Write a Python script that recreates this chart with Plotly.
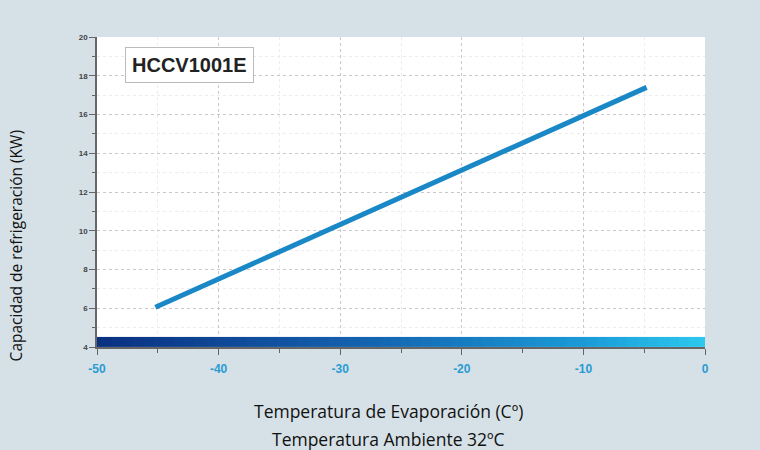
import numpy as np
import plotly.graph_objects as go

# Data
temp_evap = [-45.2, -4.8]          # °C
capacity_kw = [6.05, 17.4]         # kW
model_name = "HCCV1001E"
x_ticks = [-50, -40, -30, -20, -10, 0]
y_ticks = [4, 6, 8, 10, 12, 14, 16, 18, 20]

BG = "#d6e1e7"
TXT = "Open Sans, Noto Sans, sans-serif"

fig = go.Figure()

# decorative gradient bar along the bottom of the plot (spans 4.0 .. 4.52)
gx = np.linspace(-50, 0, 60)
fig.add_trace(go.Heatmap(
    x=gx, y=[4.13, 4.39], z=[list(gx), list(gx)],
    colorscale=[[0, "#0a3080"], [0.45, "#1464b0"], [0.8, "#1a9ad6"], [1, "#2cc8ee"]],
    showscale=False, hoverinfo="skip"))

fig.add_trace(go.Scatter(
    x=temp_evap, y=capacity_kw, mode="lines",
    line=dict(color="#1a88c6", width=5), showlegend=False))

fig.update_layout(
    width=760, height=450,
    paper_bgcolor=BG, plot_bgcolor="white",
    margin=dict(l=97, r=55, t=37, b=103),
    font=dict(family="Liberation Sans, Arial, sans-serif"),
    annotations=[
        dict(text="<b>" + model_name + "</b>", xref="x", yref="y", x=-42.4, y=18.58,
             showarrow=False, font=dict(size=20, color="#222", family="Liberation Sans, Arial"),
             bgcolor="white", bordercolor="#bbbbbb", borderwidth=1, borderpad=6,
             xanchor="center", yanchor="middle"),
        dict(text="Temperatura de Evaporación (Cº)", xref="paper", yref="paper",
             x=0.48, y=-0.205, showarrow=False, xanchor="center", yanchor="middle",
             font=dict(size=17.5, color="#111", family=TXT)),
        dict(text="Temperatura Ambiente 32ºC", xref="paper", yref="paper",
             x=0.48, y=-0.297, showarrow=False, xanchor="center", yanchor="middle",
             font=dict(size=17.5, color="#111", family=TXT)),
        dict(text="Capacidad de refrigeración (KW)", xref="paper", yref="paper",
             x=-0.133, y=0.325, showarrow=False, textangle=-90, xanchor="center", yanchor="middle",
             font=dict(size=15.5, color="#111", family=TXT)),
    ],
)

fig.update_xaxes(
    range=[-50, 0], tickvals=x_ticks, ticktext=["<b>%d</b>" % v for v in x_ticks],
    tickfont=dict(size=12, color="#2a9bd2"),
    showline=True, linecolor="#666", linewidth=1.5,
    ticks="outside", ticklen=6, tickcolor="#666", ticklabelstandoff=4,
    showgrid=True, gridcolor="#c8c8c8", griddash="dot", gridwidth=1,
    minor=dict(dtick=5, ticks="outside", ticklen=4, tickcolor="#666",
               showgrid=True, gridcolor="#ececec", gridwidth=1),
    zeroline=False, fixedrange=True)

fig.update_yaxes(
    range=[4, 20], tickvals=y_ticks, ticktext=["<b>%d</b>" % v for v in y_ticks],
    tickfont=dict(size=8, color="#444"),
    showline=True, linecolor="#666", linewidth=1.5,
    ticks="outside", ticklen=6, tickcolor="#666",
    showgrid=True, gridcolor="#c8c8c8", griddash="dot", gridwidth=1,
    minor=dict(dtick=1, ticks="outside", ticklen=3, tickcolor="#666",
               showgrid=True, gridcolor="#ececec", gridwidth=1),
    zeroline=False, fixedrange=True)

fig.write_html("out.html", config={"displayModeBar": False},
               post_script="document.body.style.margin='0';")
